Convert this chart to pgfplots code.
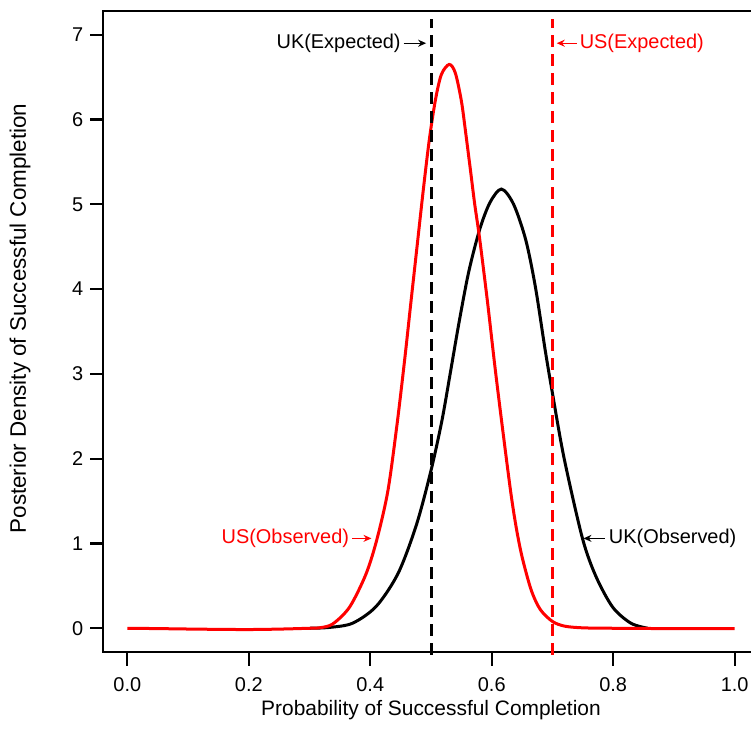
\documentclass[border=0pt]{standalone}
\usepackage{pgfplots}
\pgfplotsset{compat=1.18}
\usepackage{fontspec}
\setmainfont{Liberation Sans}
\usetikzlibrary{arrows.meta}

\definecolor{rred}{RGB}{255,0,0}

\begin{document}
\fontsize{20}{24}\selectfont
\begin{tikzpicture}
\begin{axis}[
    scale only axis,
    width=656bp, height=641bp,
    xmin=-0.04, xmax=1.04,
    ymin=-0.28, ymax=7.28,
    clip=false,
    xtick={0,0.2,0.4,0.6,0.8,1.0},
    ytick={0,1,2,3,4,5,6,7},
    xtick pos=bottom, ytick pos=left,
    tick align=outside,
    major tick length=13bp,
    axis line style={line width=1.8bp},
    /pgf/number format/assume math mode=true,
    x tick label style={yshift=-6bp, /pgf/number format/.cd, fixed, fixed zerofill, precision=1},
    yticklabel style={/pgf/number format/.cd, fixed, precision=0},
    xlabel={Probability of Successful Completion},
    ylabel={Posterior Density of Successful Completion},
    xlabel style={at={(axis description cs:0.5,0)}, anchor=center, yshift=-58bp, font=\fontsize{21}{24}\selectfont},
    ylabel style={at={(axis description cs:0,0.5)}, anchor=center, rotate=0, xshift=13bp, yshift=83bp, font=\fontsize{22.5}{26}\selectfont},
]

% UK (observed)
\addplot[black, line width=3bp, smooth, tension=0.5] coordinates {
(0.30,0.0) (0.333,0.01) (0.371,0.06) (0.41,0.26) (0.446,0.65) (0.476,1.22)
(0.50,1.86) (0.518,2.45) (0.532,3.02) (0.546,3.6) (0.562,4.2) (0.580,4.70)
(0.597,5.02) (0.616,5.18) (0.636,5.0) (0.656,4.58) (0.672,4.02) (0.688,3.28)
(0.700,2.77) (0.719,2.01) (0.749,1.07) (0.771,0.62) (0.799,0.25) (0.829,0.06)
(0.857,0.0)
};

% US (observed)
\addplot[rred, line width=3bp, smooth, tension=0.5] coordinates {
(0.0,0.0) (0.05,-0.004) (0.1,-0.009) (0.15,-0.013) (0.2,-0.015) (0.25,-0.01)
(0.30,0.0) (0.316,0.005) (0.338,0.05) (0.366,0.25) (0.393,0.64) (0.411,1.05)
(0.429,1.62) (0.444,2.40) (0.457,3.19) (0.467,3.85) (0.477,4.5) (0.487,5.15)
(0.497,5.75) (0.507,6.22) (0.517,6.53) (0.530,6.65) (0.540,6.55) (0.550,6.22)
(0.557,5.85) (0.565,5.4) (0.572,5.0) (0.580,4.6) (0.593,3.85) (0.605,3.1)
(0.617,2.40) (0.631,1.62) (0.640,1.2) (0.650,0.84) (0.665,0.45) (0.680,0.22)
(0.700,0.08) (0.720,0.025) (0.750,0.005) (0.80,0.0) (0.90,-0.004) (1.0,-0.004)
};

% expected values
\addplot[black, line width=3bp, dash pattern=on 12bp off 7bp] coordinates {(0.5,-0.31) (0.5,7.18)};
\addplot[rred, line width=3bp, dash pattern=on 12bp off 7bp] coordinates {(0.7,-0.31) (0.7,7.18)};

% thicker tick marks drawn over the axis ticks
\pgfplotsinvokeforeach{0,0.2,0.4,0.6,0.8,1.0}{
  \draw[black, line width=2.2bp] (axis cs:#1,-0.28) -- ([yshift=-14bp]axis cs:#1,-0.28);
}
\pgfplotsinvokeforeach{0,1,2,3,4,5,6,7}{
  \draw[black, line width=2.2bp] (axis cs:-0.04,#1) -- ([xshift=-13bp]axis cs:-0.04,#1);
}

% annotations
\node[anchor=east, inner sep=1bp, black] at (axis cs:0.452,6.9) {UK(Expected)};
\draw[black, line width=1.4bp, -{Stealth[length=8bp,width=7bp]}] (axis cs:0.455,6.9) -- (axis cs:0.492,6.9);
\node[anchor=west, inner sep=1bp, rred] at (axis cs:0.743,6.9) {US(Expected)};
\draw[rred, line width=1.4bp, -{Stealth[length=8bp,width=7bp]}] (axis cs:0.740,6.9) -- (axis cs:0.707,6.9);
\node[anchor=east, inner sep=1bp, rred] at (axis cs:0.367,1.06) {US(Observed)};
\draw[rred, line width=1.4bp, -{Stealth[length=8bp,width=7bp]}] (axis cs:0.370,1.06) -- (axis cs:0.402,1.06);
\node[anchor=west, inner sep=1bp, black] at (axis cs:0.791,1.06) {UK(Observed)};
\draw[black, line width=1.4bp, -{Stealth[length=8bp,width=7bp]}] (axis cs:0.786,1.06) -- (axis cs:0.751,1.06);

\coordinate (bl) at (rel axis cs:0,0);
\coordinate (tr) at (rel axis cs:1,1);
\end{axis}
\pgfresetboundingbox
\useasboundingbox ([xshift=-103bp,yshift=-97bp]bl) rectangle ([xshift=-8bp,yshift=11bp]tr);
\end{tikzpicture}
\end{document}
